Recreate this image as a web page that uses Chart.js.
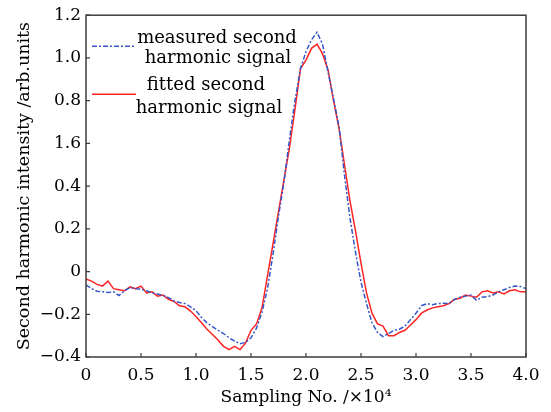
<!DOCTYPE html>
<html>
<head>
<meta charset="utf-8">
<script src="https://cdn.jsdelivr.net/npm/chart.js@4/dist/chart.umd.min.js"></script>
<style>
  html, body { margin: 0; padding: 0; background: #fff; }
  #wrap { width: 551px; height: 412px; position: relative; }
</style>
</head>
<body>
<div id="wrap"><canvas id="chart"></canvas></div>
<script>
// sampling positions (x10^4)
const sampleNo = [
  0.00, 0.05, 0.10, 0.15, 0.20, 0.25, 0.30, 0.35, 0.40, 0.45,
  0.50, 0.55, 0.60, 0.65, 0.70, 0.75, 0.80, 0.85, 0.90, 0.95,
  1.00, 1.05, 1.10, 1.15, 1.20, 1.25, 1.30, 1.35, 1.40, 1.45,
  1.50, 1.55, 1.60, 1.65, 1.70, 1.75, 1.80, 1.85, 1.90, 1.95,
  2.00, 2.05, 2.10, 2.15, 2.20, 2.25, 2.30, 2.35, 2.40, 2.45,
  2.50, 2.55, 2.60, 2.65, 2.70, 2.75, 2.80, 2.85, 2.90, 2.95,
  3.00, 3.05, 3.10, 3.15, 3.20, 3.25, 3.30, 3.35, 3.40, 3.45,
  3.50, 3.55, 3.60, 3.65, 3.70, 3.75, 3.80, 3.85, 3.90, 3.95,
  4.00
];
const measuredSignal = [
  -0.062, -0.080, -0.092, -0.095, -0.098, -0.095, -0.112, -0.090, -0.075, -0.080,
  -0.082, -0.090, -0.100, -0.105, -0.112, -0.122, -0.138, -0.145, -0.150, -0.165,
  -0.183, -0.215, -0.240, -0.258, -0.275, -0.290, -0.310, -0.325, -0.338, -0.332,
  -0.310, -0.265, -0.190, -0.080, 0.080, 0.260, 0.420, 0.620, 0.800, 0.950,
  1.030, 1.085, 1.120, 1.065, 0.935, 0.810, 0.680, 0.450, 0.250, 0.090,
  -0.050, -0.150, -0.240, -0.285, -0.305, -0.290, -0.275, -0.270, -0.255, -0.225,
  -0.195, -0.160, -0.150, -0.155, -0.150, -0.148, -0.150, -0.130, -0.120, -0.115,
  -0.110, -0.135, -0.120, -0.118, -0.110, -0.095, -0.085, -0.075, -0.068, -0.070,
  -0.080
];
const fittedSignal = [
  -0.035, -0.045, -0.060, -0.068, -0.045, -0.080, -0.085, -0.090, -0.072, -0.080,
  -0.068, -0.100, -0.095, -0.115, -0.110, -0.130, -0.140, -0.160, -0.165, -0.185,
  -0.210, -0.240, -0.270, -0.295, -0.320, -0.350, -0.365, -0.350, -0.365, -0.335,
  -0.275, -0.245, -0.170, -0.020, 0.130, 0.280, 0.430, 0.580, 0.760, 0.950,
  0.990, 1.045, 1.065, 1.020, 0.945, 0.800, 0.670, 0.500, 0.330, 0.190,
  0.040, -0.100, -0.195, -0.245, -0.255, -0.300, -0.300, -0.285, -0.275, -0.250,
  -0.225, -0.195, -0.180, -0.170, -0.165, -0.160, -0.150, -0.130, -0.125, -0.110,
  -0.115, -0.120, -0.095, -0.090, -0.100, -0.095, -0.105, -0.090, -0.085, -0.095,
  -0.095
];
const xTickLabels = ['0', '0.5', '1.0', '1.5', '2.0', '2.5', '3.0', '3.5', '4.0'];
// printed as in the original figure (including its "1.6")
const yTickLabels = ['\u22120.4', '\u22120.2', '0', '0.2', '0.4', '1.6', '0.8', '1.0', '1.2'];
const legendLines = [
  ['measured second', 'harmonic signal'],
  ['fitted second', 'harmonic signal']
];

const FONT = "'DejaVu Serif', serif";
const BLUE = '#3556c8';
const RED = '#ff2424';
const DASH = [5, 2, 2, 2];

const toPts = ys => ys.map((y, i) => ({ x: sampleNo[i], y }));

// box around the plot + inward ticks
const framePlugin = {
  id: 'frame',
  afterDraw(chart) {
    const { ctx, chartArea: a, scales } = chart;
    ctx.save();
    ctx.strokeStyle = '#3c3c3c';
    ctx.lineWidth = 1.5;
    ctx.strokeRect(a.left, a.top, a.right - a.left, a.bottom - a.top);
    ctx.lineWidth = 1.2;
    ctx.beginPath();
    scales.x.ticks.forEach(t => {
      const px = scales.x.getPixelForValue(t.value);
      ctx.moveTo(px, a.bottom); ctx.lineTo(px, a.bottom - 4);
    });
    scales.y.ticks.forEach(t => {
      const py = scales.y.getPixelForValue(t.value);
      ctx.moveTo(a.left, py); ctx.lineTo(a.left + 4, py);
    });
    ctx.stroke();
    ctx.restore();
  }
};

// legend drawn inside the plot, two-line labels
const legendPlugin = {
  id: 'innerLegend',
  afterDraw(chart) {
    const { ctx, chartArea: a } = chart;
    ctx.save();
    ctx.lineWidth = 1.5;
    // measured
    ctx.strokeStyle = BLUE;
    ctx.setLineDash(DASH);
    ctx.beginPath(); ctx.moveTo(a.left + 6, a.top + 31); ctx.lineTo(a.left + 50, a.top + 31); ctx.stroke();
    // fitted
    ctx.setLineDash([]);
    ctx.strokeStyle = RED;
    ctx.beginPath(); ctx.moveTo(a.left + 6, a.top + 79); ctx.lineTo(a.left + 50, a.top + 79); ctx.stroke();

    ctx.fillStyle = '#000';
    ctx.font = '18px ' + FONT;
    ctx.textAlign = 'center';
    ctx.textBaseline = 'middle';
    ctx.fillText(legendLines[0][0], a.left + 131, a.top + 23);
    ctx.fillText(legendLines[0][1], a.left + 132, a.top + 43);
    ctx.fillText(legendLines[1][0], a.left + 120, a.top + 70);
    ctx.fillText(legendLines[1][1], a.left + 123, a.top + 93);
    ctx.restore();
  }
};

new Chart(document.getElementById('chart').getContext('2d'), {
  type: 'line',
  data: {
    datasets: [
      {
        label: 'measured second harmonic signal',
        data: toPts(measuredSignal),
        borderColor: BLUE, borderWidth: 1.5, borderDash: DASH,
        pointRadius: 0, tension: 0, fill: false
      },
      {
        label: 'fitted second harmonic signal',
        data: toPts(fittedSignal),
        borderColor: RED, borderWidth: 1.5,
        pointRadius: 0, tension: 0, fill: false
      }
    ]
  },
  options: {
    responsive: true,
    maintainAspectRatio: false,
    animation: false,
    layout: { padding: { left: 0, right: 25, top: 12, bottom: 0 } },
    plugins: { legend: { display: false }, tooltip: { enabled: false } },
    scales: {
      x: {
        type: 'linear', min: 0, max: 4,
        ticks: {
          stepSize: 0.5, padding: 8, color: '#000',
          font: { family: FONT, size: 17 },
          callback: (v, i) => xTickLabels[i]
        },
        grid: { display: false, drawTicks: false },
        border: { display: false },
        title: {
          display: true, text: 'Sampling No. /\u00d710\u2074', color: '#000',
          font: { family: FONT, size: 17 }, padding: { top: 0, bottom: 4 }
        },
        afterFit: s => { s.height = 55; }
      },
      y: {
        min: -0.4, max: 1.2,
        ticks: {
          stepSize: 0.2, padding: 5, color: '#000',
          font: { family: FONT, size: 17 },
          callback: (v, i) => yTickLabels[i]
        },
        grid: { display: false, drawTicks: false },
        border: { display: false },
        title: {
          display: true, text: 'Second harmonic intensity /arb.units', color: '#000',
          font: { family: FONT, size: 17.5 }, padding: { top: 14, bottom: 0 }
        },
        afterFit: s => { s.width = 86; }
      }
    }
  },
  plugins: [framePlugin, legendPlugin]
});
</script>
</body>
</html>
